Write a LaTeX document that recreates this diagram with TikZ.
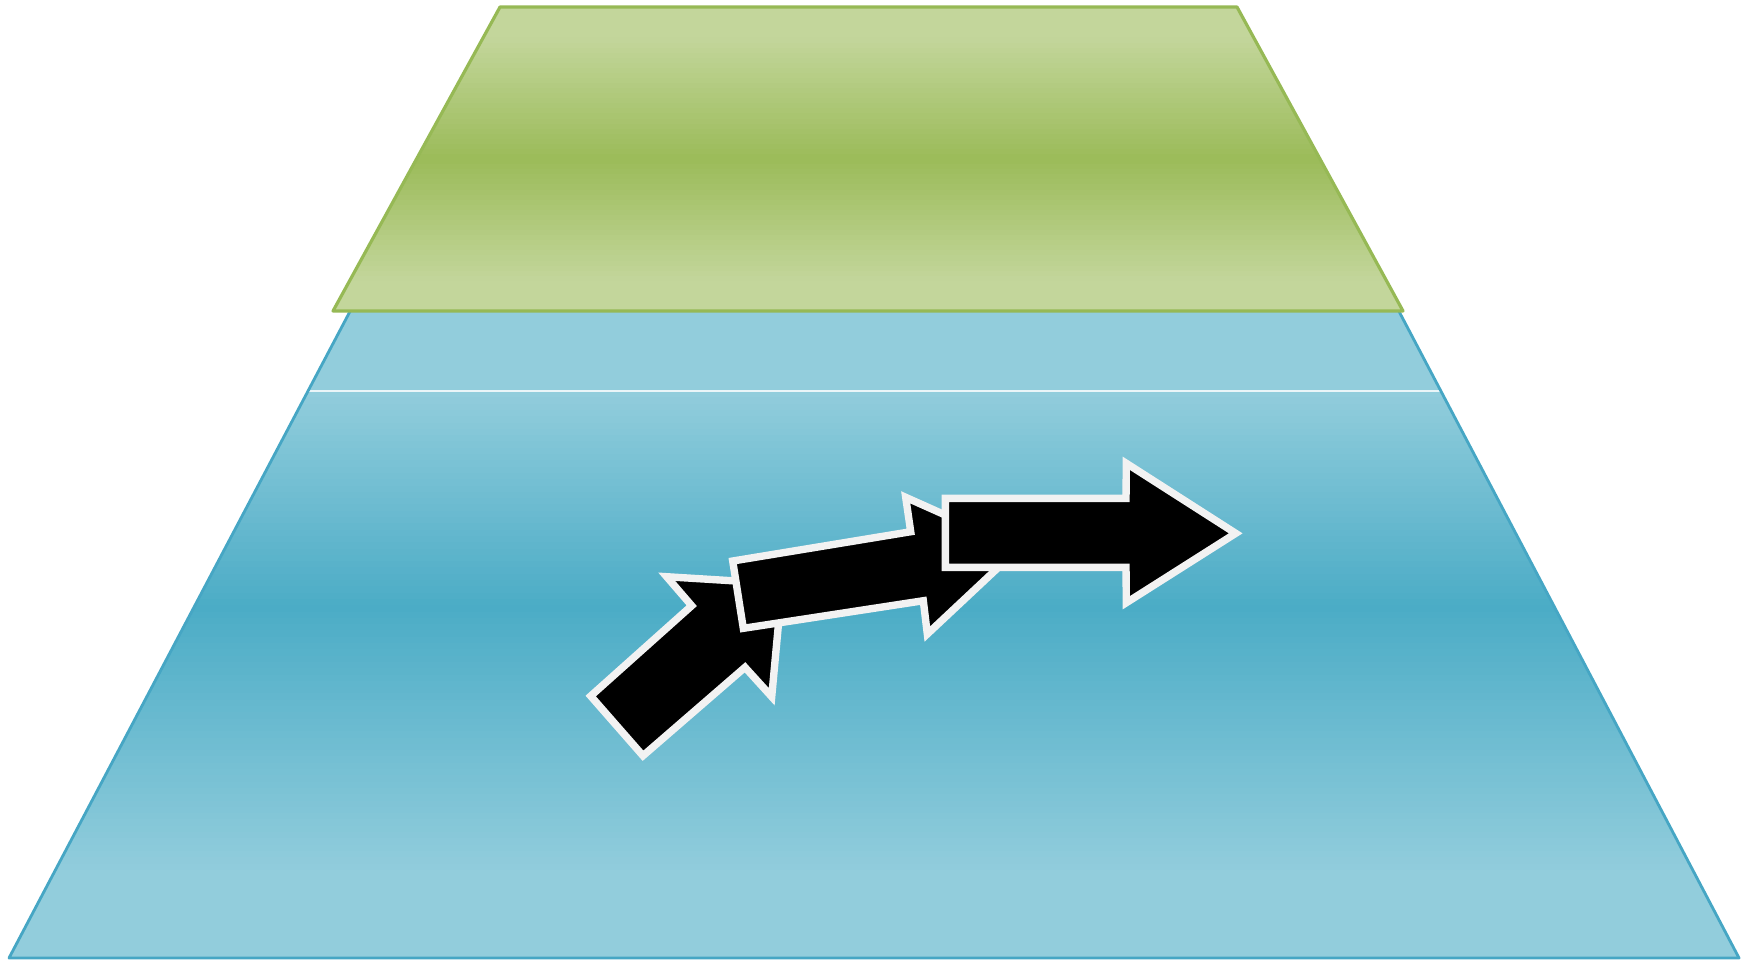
\documentclass[tikz,border=0pt]{standalone}
\usepackage{tikz}

\definecolor{bluelight}{RGB}{146,205,220}
\definecolor{bluedark}{RGB}{75,172,198}
\definecolor{blueedge}{RGB}{70,166,196}
\definecolor{greenlight}{RGB}{195,214,155}
\definecolor{greendark}{RGB}{155,187,89}
\definecolor{greenedge}{RGB}{150,185,85}
\definecolor{arrowline}{RGB}{242,242,242}

\begin{document}
\begin{tikzpicture}[
  bluepart/.style={draw=blueedge, line width=0.8pt, line join=round},
  greenpart/.style={draw=greenedge, line width=0.9pt, line join=round},
  blockarrow/.style={fill=black, draw=arrowline, line width=2.1pt, line join=miter}
]
\useasboundingbox (0,0) rectangle (17.42,-9.6);

% lower trapezoid
\coordinate (btl) at (3.56,-3.00);
\coordinate (btr) at (13.93,-3.00);
\coordinate (bml) at (3.08,-3.91);
\coordinate (bmr) at (14.41,-3.91);
\coordinate (bbl) at (0.09,-9.58);
\coordinate (bbr) at (17.39,-9.58);
\fill[bluelight] (btl) -- (btr) -- (bmr) -- (bml) -- cycle;
\begin{scope}
  \clip (bml) -- (bmr) -- (bbr) -- (bbl) -- cycle;
  \foreach \i in {0,...,89}{
    \pgfmathsetmacro\t{(\i+0.5)/90}
    \pgfmathsetmacro\p{\t<0.38 ? 100*(1-\t/0.38) : min(100,100*(\t-0.38)/0.47)}
    \fill[bluelight!\p!bluedark] (0,{-3.91-\i*0.063}) rectangle (17.42,{-3.91-(\i+1)*0.063-0.01});
  }
\end{scope}
\draw[white!80!bluelight, line width=0.4pt] (bml) -- (bmr);
\draw[bluepart] (btl) -- (btr) -- (bbr) -- (bbl) -- cycle;

% upper trapezoid
\coordinate (gtl) at (5.00,-0.07);
\coordinate (gtr) at (12.37,-0.07);
\coordinate (gbr) at (14.03,-3.11);
\coordinate (gbl) at (3.33,-3.11);
\begin{scope}
  \clip (gtl) -- (gtr) -- (gbr) -- (gbl) -- cycle;
  \foreach \i in {0,...,59}{
    \pgfmathsetmacro\t{(\i+0.5)/60}
    \pgfmathsetmacro\p{min(100,100*abs(2*\t-1)/0.8)}
    \fill[greenlight!\p!greendark] (3,{-0.07-\i*0.0507}) rectangle (14.5,{-0.07-(\i+1)*0.0507-0.01});
  }
\end{scope}
\draw[greenpart] (gtl) -- (gtr) -- (gbr) -- (gbl) -- cycle;

% three block arrows
\draw[blockarrow] (5.907,-6.96) -- (6.917,-6.057) -- (6.667,-5.767) -- (7.822,-5.838)
  -- (7.717,-6.967) -- (7.45,-6.673) -- (6.43,-7.557) -- cycle;
\draw[blockarrow] (7.327,-5.61) -- (9.107,-5.317) -- (9.057,-4.973) -- (10.19,-5.48)
  -- (9.273,-6.34) -- (9.233,-6.007) -- (7.433,-6.283) -- cycle;
\draw[blockarrow] (9.453,-4.983) -- (11.26,-4.983) -- (11.263,-4.633) -- (12.357,-5.333)
  -- (11.263,-6.027) -- (11.26,-5.673) -- (9.453,-5.673) -- cycle;
\end{tikzpicture}
\end{document}
